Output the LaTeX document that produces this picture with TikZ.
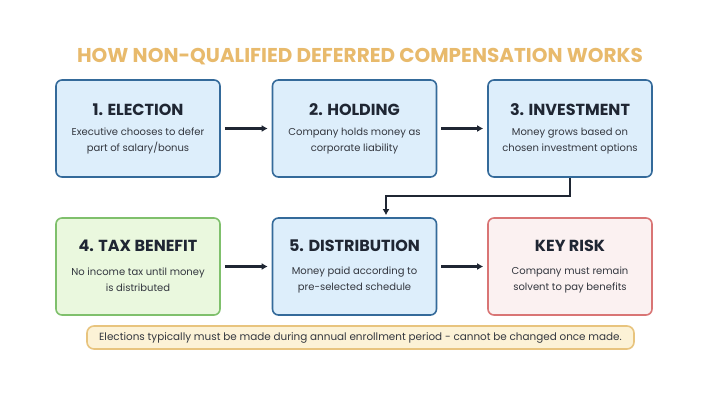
\documentclass[tikz,border=0pt]{standalone}
\usepackage{fontspec}
\setmainfont{Poppins}
\usetikzlibrary{arrows.meta,positioning}

\definecolor{titlegold}{HTML}{E8BA6C}
\definecolor{ink}{HTML}{1F2633}
\definecolor{bodygray}{HTML}{33373F}
\definecolor{blueline}{HTML}{346A9A}
\definecolor{bluefill}{HTML}{DDEEFB}
\definecolor{greenline}{HTML}{7FC06C}
\definecolor{greenfill}{HTML}{EAF8DE}
\definecolor{redline}{HTML}{D97575}
\definecolor{redfill}{HTML}{FBF1F1}
\definecolor{noteline}{HTML}{E8C47E}
\definecolor{notefill}{HTML}{FCF2D6}

\begin{document}
\begin{tikzpicture}[
        x=1pt, y=-1pt,
        stepbox/.style={draw, rounded corners=6pt, line width=1.6pt, minimum width=164pt, minimum height=97pt, inner sep=0pt},
        bluebox/.style={stepbox, draw=blueline, fill=bluefill},
        greenbox/.style={stepbox, draw=greenline, fill=greenfill},
        redbox/.style={stepbox, draw=redline, fill=redfill},
        steptitle/.style={font=\fontsize{16}{18}\selectfont\bfseries, text=ink, inner sep=0pt},
        stepdesc/.style={font=\fontsize{10}{16}\selectfont, text=bodygray, align=center, inner sep=0pt},
        flow/.style={draw=ink, line width=2.2pt, -{Latex[length=6pt,width=7pt]}},
    ]
    \useasboundingbox[fill=white] (0,0) rectangle (720,404);

    % heading
    \node[font=\fontsize{20}{22}\selectfont\bfseries, text=titlegold] (heading) at (360,57) {HOW NON-QUALIFIED DEFERRED COMPENSATION WORKS};

    % first row
    \node[bluebox] (election) at (138,128.5) {};
    \node[bluebox] (holding) at (354.5,128.5) {};
    \node[bluebox] (investment) at (570,128.5) {};
    \node[steptitle] (election-t) at ([yshift=18.5pt]election.center) {1. ELECTION};
    \node[stepdesc] (election-d) at ([yshift=-12.5pt]election.center) {Executive chooses to defer\\part of salary/bonus};
    \node[steptitle] (holding-t) at ([yshift=18.5pt]holding.center) {2. HOLDING};
    \node[stepdesc] (holding-d) at ([yshift=-12.5pt]holding.center) {Company holds money as\\corporate liability};
    \node[steptitle] (investment-t) at ([yshift=18.5pt]investment.center) {3. INVESTMENT};
    \node[stepdesc] (investment-d) at ([yshift=-12.5pt]investment.center) {Money grows based on\\chosen investment options};

    % second row
    \node[greenbox] (taxbenefit) at (138,266.5) {};
    \node[bluebox] (distribution) at (354.5,266.5) {};
    \node[redbox] (keyrisk) at (570,266.5) {};
    \node[steptitle] (taxbenefit-t) at ([yshift=21pt]taxbenefit.center) {4. TAX BENEFIT};
    \node[stepdesc] (taxbenefit-d) at ([yshift=-13pt]taxbenefit.center) {No income tax until money\\is distributed};
    \node[steptitle] (distribution-t) at ([yshift=21pt]distribution.center) {5. DISTRIBUTION};
    \node[stepdesc] (distribution-d) at ([yshift=-13pt]distribution.center) {Money paid according to\\pre-selected schedule};
    \node[steptitle] (keyrisk-t) at ([yshift=21pt]keyrisk.center) {KEY RISK};
    \node[stepdesc] (keyrisk-d) at ([yshift=-13pt]keyrisk.center) {Company must remain\\solvent to pay benefits};

    % note
    \node[draw=noteline, fill=notefill, line width=1.6pt, rounded corners=7pt, minimum width=547pt, minimum height=23pt,
          font=\fontsize{10.4}{12}\selectfont, text=bodygray] (note) at (360.5,337.5)
          {Elections typically must be made during annual enrollment period - cannot be changed once made.};

    % connectors
    \draw[flow, shorten <=4pt, shorten >=4pt] (election) -- (holding);
    \draw[flow, shorten <=4pt, shorten >=4pt] (holding) -- (investment);
    \coordinate (drop) at (386,196);
    \draw[flow, shorten >=2pt] (investment.south) |- (drop) -- (drop |- distribution.north);
    \draw[flow, shorten <=4pt, shorten >=4pt] (taxbenefit) -- (distribution);
    \draw[flow, shorten <=4pt, shorten >=4pt] (distribution) -- (keyrisk);
\end{tikzpicture}
\end{document}
